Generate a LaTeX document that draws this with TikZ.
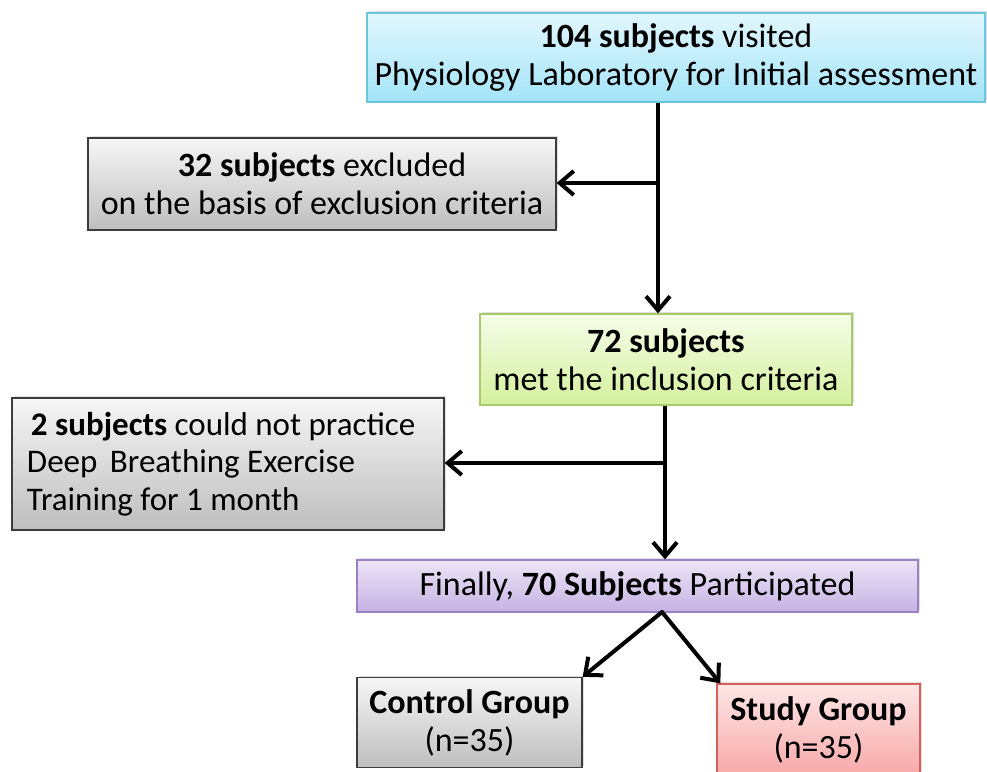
\documentclass[tikz,border=0pt]{standalone}
\usepackage{fontspec}
\setmainfont{Carlito}
\usetikzlibrary{arrows.meta,calc,positioning,shadows}

\definecolor{cyantop}{HTML}{E2F7FD}
\definecolor{cyanbot}{HTML}{A3E4F8}
\definecolor{cyanline}{HTML}{6CC6DE}
\definecolor{graytop}{HTML}{F6F6F6}
\definecolor{graybot}{HTML}{BEBEBE}
\definecolor{grayline}{HTML}{3C3C3C}
\definecolor{greentop}{HTML}{F6FDE8}
\definecolor{greenbot}{HTML}{D4F09E}
\definecolor{greenline}{HTML}{A8C96C}
\definecolor{purptop}{HTML}{EDE5F6}
\definecolor{purpbot}{HTML}{C5B2E3}
\definecolor{purpline}{HTML}{9B80C4}
\definecolor{redtop}{HTML}{FDE6E6}
\definecolor{redbot}{HTML}{F8A8A8}
\definecolor{redline}{HTML}{D65F5B}

\tikzset{
  box/.style={draw, line width=1.3pt, shading=axis, inner sep=0pt, align=center,
    font=\fontsize{34}{38}\selectfont,
    drop shadow={opacity=.25, shadow xshift=2pt, shadow yshift=2pt}},
  bluebox/.style={box, draw=cyanline, top color=cyantop, bottom color=cyanbot},
  graybox/.style={box, draw=grayline, top color=graytop, bottom color=graybot},
  greenbox/.style={box, draw=greenline, top color=greentop, bottom color=greenbot},
  purpbox/.style={box, draw=purpline, top color=purptop, bottom color=purpbot},
  redbox/.style={box, draw=redline, top color=redtop, bottom color=redbot},
  arr/.style={line width=4pt, -{Straight Barb[length=14pt,width=24pt]}}
}

\begin{document}
\begin{tikzpicture}[x=1pt,y=-1pt]
  \useasboundingbox (0,0) rectangle (987,771);
  % boxes
  \node[bluebox, minimum width=618pt, minimum height=89pt] (visit) at (676,57.5)
    {\textbf{104 subjects} visited\\ Physiology Laboratory for Initial assessment};
  \node[graybox, minimum width=468pt, minimum height=92pt] (excl) at (322,184)
    {\textbf{32 subjects} excluded\\ on the basis of exclusion criteria};
  \node[greenbox, minimum width=372pt, minimum height=91pt] (incl) at (666,359.5)
    {\textbf{72 subjects}\\ met the inclusion criteria};
  \node[graybox, text width=402pt, inner xsep=15pt, minimum height=132pt, align=flush left,
    font=\fontsize{33}{37.5}\selectfont] (drop) at (228,464)
    {\hspace*{4pt}\textbf{2 subjects} could not practice\\ Deep\hspace{5pt} Breathing Exercise\\ Training for 1 month};
  \node[purpbox, minimum width=561pt, minimum height=52pt] (final) at (637.5,586)
    {Finally, \textbf{70 Subjects} Participated};
  \node[graybox, minimum width=225pt, minimum height=90pt] (ctrl) at (469.5,722.5)
    {\textbf{Control Group}\\ (n=35)};
  \node[redbox, minimum width=203pt, minimum height=92pt] (study) at (818.5,730)
    {\textbf{Study Group}\\ (n=35)};
  % junctions
  \coordinate (j1) at (658,183);
  \coordinate (j2) at (665,463);
  \coordinate (j3) at (662,612);
  % connectors
  \draw[arr] (visit.south -| j1) -- (incl.north -| j1);
  \draw[arr] ([xshift=2pt]j1) -- (excl.east |- j1);
  \draw[arr] (incl.south -| j2) -- (final.north -| j2);
  \draw[arr] ([xshift=2pt]j2) -- (drop.east |- j2);
  \draw[arr, shorten <=-1pt] (j3) -- (ctrl.north east);
  \draw[arr, shorten <=-1pt] (j3) -- ([xshift=4pt]study.north west);
\end{tikzpicture}
\end{document}
